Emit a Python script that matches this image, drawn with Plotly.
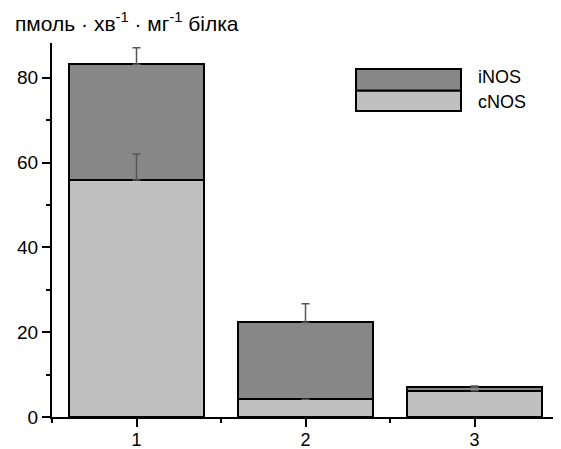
import plotly.graph_objects as go

categories = [1, 2, 3]
cnos = [55.9, 4.2, 6.2]
inos = [27.3, 18.1, 0.8]
cnos_err = [6.1, None, None]
total_err = [3.9, 4.4, 0.3]
tick_labels = ["1", "2", "3"]
y_ticks = [0, 20, 40, 60, 80]

total = [c + i for c, i in zip(cnos, inos)]

FONT = "Liberation Sans, Arial, sans-serif"
LIGHT = "#c0c0c0"
DARK = "#878787"

fig = go.Figure()
fig.add_trace(go.Bar(x=categories, y=cnos, name="cNOS", width=0.8,
                     marker=dict(color=LIGHT, line=dict(color="black", width=2)),
                     showlegend=False))
fig.add_trace(go.Bar(x=categories, y=inos, name="iNOS", width=0.8,
                     marker=dict(color=DARK, line=dict(color="black", width=2)),
                     showlegend=False))
# error bars drawn above bars
fig.add_trace(go.Scatter(x=categories, y=cnos, mode="markers", marker=dict(size=0.1, color="rgba(0,0,0,0)"),
                         error_y=dict(type="data", symmetric=False, array=cnos_err,
                                      arrayminus=[0]*3, color="#555555", thickness=1.5, width=4),
                         showlegend=False, hoverinfo="skip"))
fig.add_trace(go.Scatter(x=categories, y=total, mode="markers", marker=dict(size=0.1, color="rgba(0,0,0,0)"),
                         error_y=dict(type="data", symmetric=False, array=total_err,
                                      arrayminus=[0]*3, color="#555555", thickness=1.5, width=4),
                         showlegend=False, hoverinfo="skip"))

# custom legend
fig.add_shape(type="rect", xref="paper", yref="paper", x0=0.5996, x1=0.8067, y0=0.8725, y1=0.9305,
              fillcolor=DARK, line=dict(color="black", width=2))
fig.add_shape(type="rect", xref="paper", yref="paper", x0=0.5996, x1=0.8067, y0=0.818, y1=0.8725,
              fillcolor=LIGHT, line=dict(color="black", width=2))
fig.add_annotation(xref="paper", yref="paper", x=0.836, y=0.909, text="iNOS", showarrow=False,
                   xanchor="left", yanchor="middle", font=dict(family=FONT, size=18, color="black"))
fig.add_annotation(xref="paper", yref="paper", x=0.836, y=0.842, text="cNOS", showarrow=False,
                   xanchor="left", yanchor="middle", font=dict(family=FONT, size=18, color="black"))

fig.add_annotation(xref="paper", yref="paper", x=-0.077, y=1.056,
                   text="пмоль · хв<sup>-1</sup> · мг<sup>-1</sup> білка", showarrow=False,
                   xanchor="left", yanchor="middle", font=dict(family=FONT, size=21, color="black"))

fig.update_layout(
    barmode="stack",
    width=553, height=441,
    margin=dict(l=44, r=2, t=35, b=32, autoexpand=False),
    paper_bgcolor="white", plot_bgcolor="white",
    font=dict(family=FONT, size=19, color="black"),
    bargap=0.2,
)
fig.update_xaxes(range=[0.5, 3.5], tickvals=categories, ticktext=tick_labels, automargin=False,
                 showline=True, linecolor="black", linewidth=2, ticks="outside",
                 ticklen=8, tickwidth=2, tickcolor="black", showgrid=False, zeroline=False,
                 ticklabelstandoff=-3,
                 minor=dict(tickvals=[0.5, 1.5, 2.5, 3.5], ticks="outside", ticklen=4,
                            tickwidth=2, tickcolor="black", showgrid=False),
                 tickfont=dict(size=18))
fig.update_yaxes(range=[0, 88.2], tickvals=y_ticks, automargin=False,
                 showline=True, linecolor="black", linewidth=2, ticks="outside",
                 ticklen=8, tickwidth=2, tickcolor="black", showgrid=False, zeroline=False,
                 minor=dict(tickvals=[10, 30, 50, 70], ticks="outside", ticklen=4,
                            tickwidth=2, tickcolor="black", showgrid=False),
                 tickfont=dict(size=19))

fig.write_html("out.html")
